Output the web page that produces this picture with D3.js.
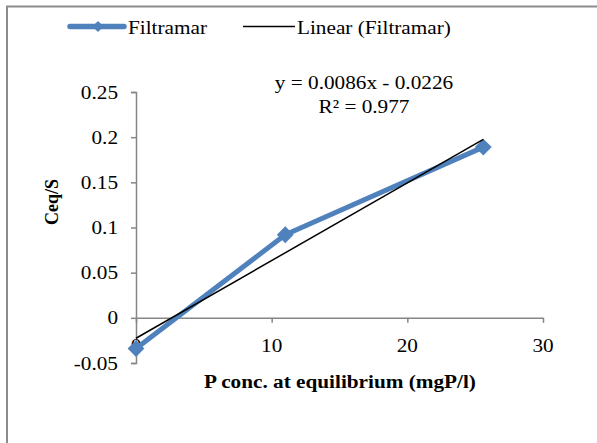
<!DOCTYPE html>
<html>
<head>
<meta charset="utf-8">
<script src="https://cdn.jsdelivr.net/npm/d3@7"></script>
<style>
  body { margin: 0; background: #fff; }
  svg { display: block; font-family: "Liberation Serif", "Times New Roman", serif; }
</style>
</head>
<body>
<div id="container"></div>
<script>
// data
const xValues = [0, 11, 25.6];
const yValues = [-0.034, 0.092, 0.189];
const xTicks = [0, 10, 20, 30];
const yTicks = [-0.05, 0, 0.05, 0.1, 0.15, 0.2, 0.25];
const yTickLabels = ['-0.05', '0', '0.05', '0.1', '0.15', '0.2', '0.25'];
const trendSlope = 0.0086;
const trendIntercept = -0.0226;
const seriesName = 'Filtramar';
const trendName = 'Linear (Filtramar)';

const width = 597;
const height = 443;
const blue = '#4F81BD';
const axisGray = '#868686';
const fontSize = 19.5;
const stretch = 1.09; // text in the reference is a bit wider than plain Times

const svg = d3.select('#container').append('svg').attr('width', width).attr('height', height);

// places a text at (x, y) with the slight horizontal stretch
function addText(parent, x, y, str, anchor, bold) {
  return parent.append('text')
    .attr('transform', `translate(${x},${y}) scale(${stretch},1)`)
    .attr('text-anchor', anchor || 'start')
    .attr('font-size', fontSize)
    .attr('font-weight', bold ? 'bold' : null)
    .text(str);
}

// chart frame (only top/left edges visible in the crop)
svg.append('path')
  .attr('d', `M7,${height} L7,6.5 L${width},6.5`)
  .attr('fill', 'none')
  .attr('stroke', '#8c8c8c')
  .attr('stroke-width', 2);

const x = d3.scaleLinear().domain([0, 30]).range([136, 543]);
const y = d3.scaleLinear().domain([-0.05, 0.25]).range([363, 92]);

// --- Axes ---
const yAxis = svg.append('g')
  .attr('transform', `translate(${x(0)},0)`)
  .call(d3.axisLeft(y).tickValues(yTicks).tickSize(5).tickFormat(''));
const xAxis = svg.append('g')
  .attr('transform', `translate(0,${y(0)})`)
  .call(d3.axisBottom(x).tickValues(xTicks).tickSize(5).tickSizeOuter(0).tickFormat(''));
[yAxis, xAxis].forEach((ax) => {
  ax.select('.domain').attr('stroke', axisGray).attr('stroke-width', 1.5);
  ax.selectAll('.tick line').attr('stroke', axisGray).attr('stroke-width', 1.5);
});

// tick labels
const tickLabels = svg.append('g');
yTicks.forEach((v, i) => addText(tickLabels, 118, y(v) + 6.5, yTickLabels[i], 'end'));
xTicks.forEach((v) => addText(tickLabels, x(v), 352, String(v), 'middle'));

// axis titles
addText(svg, 340, 388, 'P conc. at equilibrium (mgP/l)', 'middle', true);

svg.append('text')
  .attr('transform', 'translate(58,202) rotate(-90) scale(1,1.09)')
  .attr('text-anchor', 'middle')
  .attr('font-size', 18).attr('font-weight', 'bold')
  .text('Ceq/S');

// --- Series ---
const points = xValues.map((v, i) => ({ x: v, y: yValues[i] }));
const line = d3.line().x((d) => x(d.x)).y((d) => y(d.y));

svg.append('path')
  .datum(points)
  .attr('d', line)
  .attr('fill', 'none')
  .attr('stroke', blue)
  .attr('stroke-width', 5)
  .attr('stroke-linejoin', 'round');

const diamond = d3.symbol().type(d3.symbolDiamond2).size(180);
svg.append('g').selectAll('path')
  .data(points)
  .join('path')
  .attr('transform', (d) => `translate(${x(d.x)},${y(d.y)})`)
  .attr('d', diamond)
  .attr('fill', blue);

// linear trendline over the data range
const trendPts = d3.extent(xValues).map((v) => ({ x: v, y: trendSlope * v + trendIntercept }));
svg.append('path')
  .datum(trendPts)
  .attr('d', line)
  .attr('fill', 'none')
  .attr('stroke', '#000')
  .attr('stroke-width', 1.5);

// equation label
addText(svg, 364, 89, 'y = 0.0086x - 0.0226', 'middle');
addText(svg, 364, 113, 'R² = 0.977', 'middle');

// --- Legend ---
const legend = svg.append('g');
legend.append('line')
  .attr('x1', 70).attr('x2', 124).attr('y1', 26.5).attr('y2', 26.5)
  .attr('stroke', blue).attr('stroke-width', 5.5).attr('stroke-linecap', 'round');
legend.append('path')
  .attr('transform', 'translate(98,26.5)')
  .attr('d', d3.symbol().type(d3.symbolDiamond2).size(80))
  .attr('fill', blue);
addText(legend, 128, 34, seriesName);
legend.append('line')
  .attr('x1', 243).attr('x2', 295).attr('y1', 26.5).attr('y2', 26.5)
  .attr('stroke', '#000').attr('stroke-width', 1.5);
addText(legend, 297, 34, trendName);
</script>
</body>
</html>
